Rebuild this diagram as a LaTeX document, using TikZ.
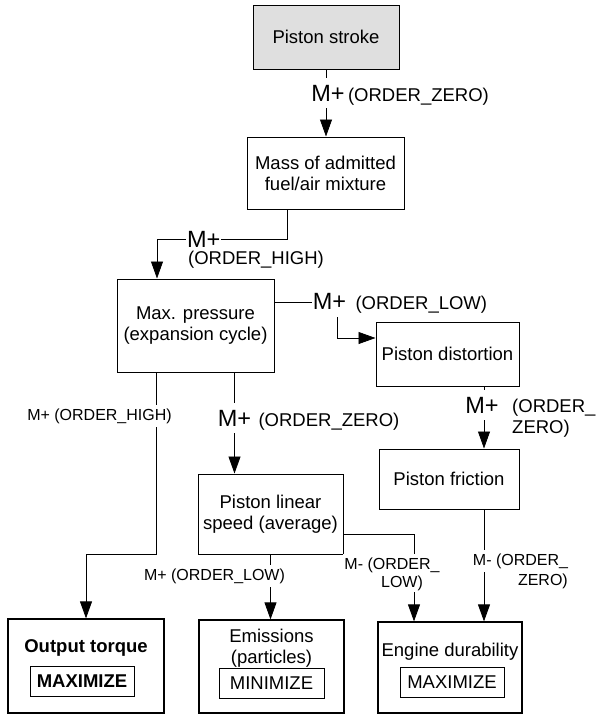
\documentclass[tikz,border=0pt]{standalone}
\usepackage{fontspec}
\setmainfont{Liberation Sans}
\usetikzlibrary{arrows.meta}
\tikzset{
  blk/.style={draw,line width=1pt,align=center,inner sep=0pt,font=\fontsize{18.5}{21}\selectfont},
  outbox/.style={draw,line width=1.2pt,minimum height=93pt,inner sep=0pt},
  goalbox/.style={draw,line width=1pt,minimum width=104pt,minimum height=30pt,inner sep=0pt,font=\fontsize{18.5}{21}\selectfont},
  arr/.style={line width=0.8pt,-{Triangle[length=17pt,width=12pt]}},
  mplus/.style={fill=white,inner xsep=1pt,inner ysep=7pt,font=\fontsize{23.5}{26}\selectfont},
  ordlbl/.style={inner sep=0pt,align=left,font=\fontsize{18.5}{21}\selectfont},
  smlbl/.style={fill=white,inner xsep=1pt,inner ysep=4pt,align=center,font=\fontsize{16}{19}\selectfont}
}
\begin{document}
\begin{tikzpicture}
  \begin{scope}[x=1pt,y=-1pt]
  \useasboundingbox (0,0) rectangle (595,715);
  \node[blk,fill=gray!25,minimum width=146pt,minimum height=64pt] (stroke) at (326,37) {Piston stroke};
  \node[blk,minimum width=157pt,minimum height=72pt] (mass) at (325.5,173) {Mass of admitted\\fuel/air mixture};
  \node[blk,minimum width=157pt,minimum height=93pt] (maxp) at (195.5,325.5) {Max. pressure\\(expansion cycle)};
  \node[blk,minimum width=143pt,minimum height=64pt] (dist) at (447.5,354) {Piston distortion};
  \node[blk,minimum width=140pt,minimum height=60pt] (fric) at (449,479) {Piston friction};
  \node[blk,minimum width=145pt,minimum height=80pt] (lin) at (270.5,514) {Piston linear\\speed (average)};
  \node[outbox,minimum width=156pt,minimum height=94pt] (torque) at (86,666) {};
  \node[outbox,minimum width=145pt] (emis) at (271.5,666.5) {};
  \node[outbox,minimum width=144pt,minimum height=91pt] (dur) at (450,667.5) {};
  \node[font=\fontsize{18.5}{21}\selectfont\bfseries] (torquetitle) at (86,648) {Output torque};
  \node[goalbox,font=\fontsize{18.5}{21}\selectfont\bfseries] (torquegoal) at (82,681) {MAXIMIZE};
  \node[align=center,font=\fontsize{18.5}{21}\selectfont] (emistitle) at (271.5,648) {Emissions\\(particles)};
  \node[goalbox,minimum width=105pt] (emisgoal) at (271.5,683) {MINIMIZE};
  \node[font=\fontsize{18.5}{21}\selectfont] (durtitle) at (450,652) {Engine durability};
  \node[goalbox] (durgoal) at (452,682.5) {MAXIMIZE};
  \draw[arr] (stroke.south) -- (stroke.south |- mass.north);
  \node[mplus] (zeroa) at (328,93) {M+};
  \node[ordlbl,anchor=base west] at ([xshift=2pt]zeroa.base east) {(ORDER\_ZERO)};
  \draw[arr] ([xshift=-38.5pt]mass.south) -- ++(0,30) -| node[pos=0.32,mplus,inner ysep=2pt] {M+} ([xshift=-38.5pt]maxp.north);
  \node[ordlbl] at (256,260) {(ORDER\_HIGH)};
  \coordinate (lowbend) at (337,338);
  \draw[arr] ([yshift=23.5pt]maxp.east) -| (lowbend) -- (lowbend -| dist.west);
  \node[mplus] (lowm) at (329.5,301.5) {M+};
  \node[ordlbl,anchor=base west] at ([xshift=8pt]lowm.base east) {(ORDER\_LOW)};
  \draw[arr] ([xshift=-39.5pt]maxp.south) -- ++(0,182) -| (torque.north);
  \node[smlbl] at (99.5,416) {M+ (ORDER\_HIGH)};
  \draw[arr] ([xshift=39pt]maxp.south) -- ([xshift=39pt]maxp.south |- lin.north);
  \node[mplus] (zerob) at (234.5,418) {M+};
  \node[ordlbl,anchor=base west] at ([xshift=6pt]zerob.base east) {(ORDER\_ZERO)};
  \draw[arr] ([xshift=36.5pt]dist.south) -- ([xshift=36.5pt]dist.south |- fric.north);
  \node[mplus] (frim) at (482,405) {M+};
  \node[ordlbl,anchor=west] at (512,418) {(ORDER\_\\ZERO)};
  \draw[arr] ([xshift=35pt]fric.south) -- ([xshift=35pt]fric.south |- dur.north);
  \node[smlbl] at (520.5,561) {M- (ORDER\_};
  \node[smlbl,anchor=east,fill=none] at (569,581) {ZERO)};
  \draw[arr] ([yshift=-20pt]lin.east) -| ([xshift=-36pt]dur.north);
  \node[smlbl] at (392,565) {M- (ORDER\_};
  \node[smlbl,inner ysep=2pt] at (402,583) {LOW)};
  \draw[arr] (lin.south) -- (lin.south |- emis.north);
  \node[smlbl] at (214.5,576) {M+ (ORDER\_LOW)};
  \end{scope}
\end{tikzpicture}
\end{document}
